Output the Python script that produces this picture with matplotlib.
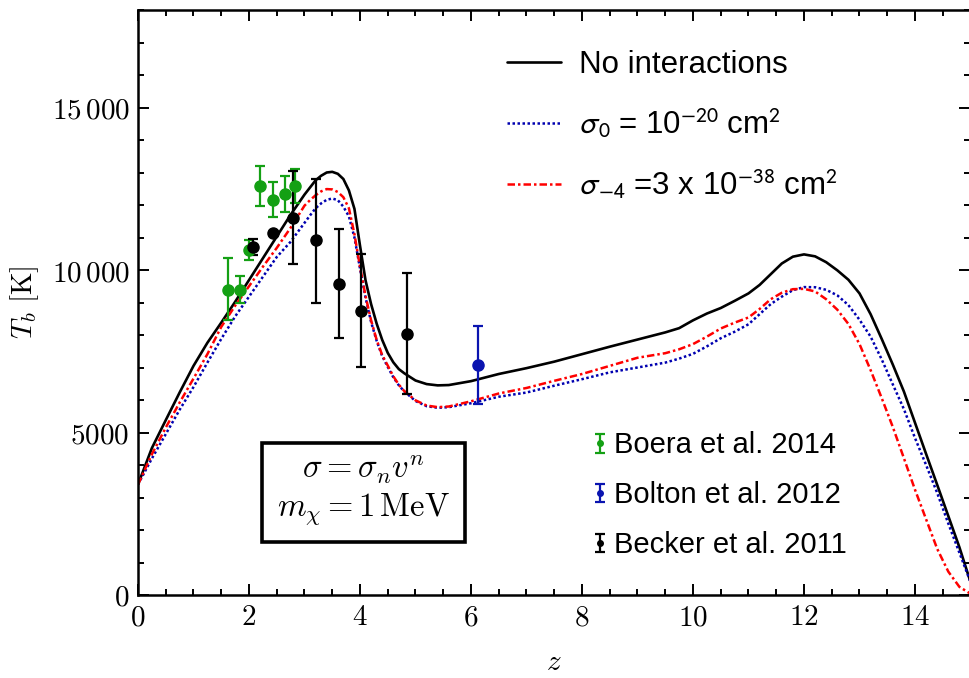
import matplotlib
matplotlib.use("Agg")
import matplotlib.pyplot as plt
from matplotlib.font_manager import FontProperties
from matplotlib.ticker import MultipleLocator, FixedLocator, FixedFormatter
from matplotlib.legend_handler import HandlerErrorbar

plt.rcParams['mathtext.fontset'] = 'cm'

# ---------------- data ----------------
z = [0, 0.25, 0.5, 0.75, 1.0, 1.25, 1.5, 1.75, 2.0, 2.25, 2.5, 2.75, 3.0,
     3.1, 3.2, 3.3, 3.4, 3.5, 3.6, 3.7, 3.8, 3.9, 4.0, 4.1, 4.2, 4.3, 4.4,
     4.5, 4.6, 4.7, 4.8, 5.0, 5.2, 5.4, 5.6, 5.8, 6.0, 6.5, 7.0, 7.5, 8.0,
     8.5, 9.0, 9.5, 9.75, 10.0, 10.25, 10.5, 10.75, 11.0, 11.2, 11.4, 11.6,
     11.8, 12.0, 12.2, 12.4, 12.6, 12.8, 13.0, 13.2, 13.4, 13.6, 13.8, 14.0,
     14.2, 14.4, 14.6, 14.8, 15.0]

T_none = [3400, 4520, 5380, 6230, 7050, 7760, 8380, 9020, 9690, 10360, 11030,
          11700, 12320, 12540, 12760, 12900, 13000, 13020, 12960, 12800, 12450,
          11880, 10750, 9680, 8950, 8350, 7850, 7450, 7160, 6950, 6820, 6600,
          6490, 6450, 6460, 6520, 6580, 6800, 6980, 7180, 7410, 7640, 7860,
          8080, 8210, 8451, 8660, 8830, 9050, 9280, 9540, 9870, 10200, 10410,
          10480, 10420, 10240, 9990, 9700, 9280, 8640, 7880, 7090, 6260, 5300,
          4340, 3390, 2430, 1470, 400]

T_sig0 = [3400, 4200, 4950, 5700, 6400, 7150, 7880, 8570, 9180, 9790, 10400,
          10870, 11450, 11680, 11900, 12050, 12160, 12200, 12150, 11950, 11650,
          11000, 10050, 9150, 8400, 7820, 7350, 7020, 6700, 6450, 6260, 5970,
          5810, 5760, 5780, 5840, 5900, 6100, 6230, 6440, 6640, 6850, 7000,
          7150, 7273, 7420, 7650, 7900, 8100, 8330, 8640, 8950, 9180, 9380,
          9474, 9470, 9390, 9220, 8920, 8470, 7950, 7250, 6480, 5720, 4830,
          4000, 3140, 2200, 1300, 400]

T_sigm4 = [3400, 4330, 5150, 5920, 6660, 7410, 8250, 8900, 9500, 10100, 10680,
           11300, 11980, 12150, 12300, 12420, 12490, 12480, 12400, 12240, 11900,
           11100, 10100, 9200, 8450, 7850, 7380, 7060, 6730, 6470, 6270, 5990,
           5830, 5780, 5800, 5880, 5960, 6200, 6370, 6590, 6800, 7050, 7300,
           7440, 7560, 7720, 7950, 8200, 8380, 8540, 8800, 9100, 9300, 9410,
           9420, 9340, 9100, 8780, 8340, 7720, 6920, 6060, 5170, 4210, 3240,
           2330, 1420, 720, 250, 40]

# Boera et al. 2014
boera_z = [1.63, 1.84, 2.0, 2.2, 2.43, 2.64, 2.82]
boera_T = [9400, 9400, 10620, 12570, 12160, 12340, 12570]
boera_lo = [950, 400, 300, 590, 540, 540, 520]
boera_hi = [970, 430, 290, 620, 540, 540, 550]

# Bolton et al. 2012
bolton_z = [6.13]
bolton_T = [7070]
bolton_lo = [1180]
bolton_hi = [1200]

# Becker et al. 2011
becker_z = [2.08, 2.43, 2.8, 3.2, 3.63, 4.02, 4.84]
becker_T = [10720, 11130, 11610, 10910, 9580, 8740, 8020]
becker_lo = [250, 0, 1440, 1930, 1670, 1720, 1850]
becker_hi = [240, 0, 1450, 1900, 1690, 1760, 1880]

ytick_vals = [0, 5000, 10000, 15000]
ytick_labels = [r'$0$', r'$5000$', r'$10\,000$', r'$15\,000$']
xtick_vals = [0, 2, 4, 6, 8, 10, 12, 14]

# ---------------- figure ----------------
fig = plt.figure(figsize=(9.7, 6.78), dpi=100)
ax = fig.add_axes([138 / 970, 83 / 678, 832.5 / 970, 585 / 678])

l1, = ax.plot(z, T_none, color='black', lw=1.9, solid_capstyle='round')
l2, = ax.plot(z, T_sig0, color='#0000b0', lw=1.8, linestyle=(0, (1, 1)))
l3, = ax.plot(z, T_sigm4, color='#ff0000', lw=1.8,
              linestyle=(0, (3, 1.2, 1, 1.2)))

green = '#14a014'
blue = '#0a14b0'
eb_kw = dict(fmt='o', ms=8, elinewidth=1.6, capsize=3.5, capthick=1.6)
e1 = ax.errorbar(boera_z, boera_T, yerr=[boera_lo, boera_hi], color=green, **eb_kw)
e2 = ax.errorbar(bolton_z, bolton_T, yerr=[bolton_lo, bolton_hi], color=blue, **eb_kw)
e3 = ax.errorbar(becker_z, becker_T, yerr=[becker_lo, becker_hi], color='black', **eb_kw)

ax.set_xlim(0, 15)
ax.set_ylim(0, 18000)
ax.xaxis.set_major_locator(FixedLocator(xtick_vals))
ax.xaxis.set_minor_locator(MultipleLocator(0.5))
ax.yaxis.set_major_locator(FixedLocator(ytick_vals))
ax.yaxis.set_major_formatter(FixedFormatter(ytick_labels))
ax.yaxis.set_minor_locator(MultipleLocator(1000))
ax.set_xticklabels([r'$%d$' % v for v in xtick_vals])

ax.tick_params(which='both', direction='in', top=True, right=True,
               width=1.4, colors='black', labelsize=21)
ax.tick_params(which='major', length=8, pad=6)
ax.tick_params(which='minor', length=4.5)
for s in ax.spines.values():
    s.set_linewidth(1.8)

ax.set_xlabel(r'$z$', fontsize=21, labelpad=12)
ax.set_ylabel(r'$T_b\ [\mathrm{K}]$', fontsize=21, labelpad=8)

# top legend
prop1 = FontProperties(family='Liberation Sans', size=22.5, math_fontfamily='stixsans')
leg1 = ax.legend([l1, l2, l3],
                 ['No interactions',
                  r'$\sigma_0$ = 10$^{-20}$ cm$^2$',
                  r'$\sigma_{-4}$ =3 x 10$^{-38}$ cm$^2$'],
                 prop=prop1, loc='upper left', bbox_to_anchor=(0.443, 0.932),
                 frameon=False, handlelength=1.75, handletextpad=0.55,
                 labelspacing=0.88, borderpad=0, borderaxespad=0)
ax.add_artist(leg1)

prop2 = FontProperties(family='Liberation Sans', size=21)
leg2 = ax.legend([e1, e2, e3],
                 ['Boera et al. 2014', 'Bolton et al. 2012', 'Becker et al. 2011'],
                 prop=prop2, loc='upper left', bbox_to_anchor=(0.546, 0.2795),
                 frameon=False, handlelength=0.5, handletextpad=0.25,
                 labelspacing=0.75, borderpad=0, borderaxespad=0, markerscale=0.5,
                 handler_map={type(e1): HandlerErrorbar(yerr_size=0.32)})

ax.text(0.271, 0.179, r'$\sigma = \sigma_n v^n$' + '\n' + r'$m_\chi = 1\,\mathrm{MeV}$',
        transform=ax.transAxes, ha='center', va='center', fontsize=23.5,
        multialignment='center', linespacing=1.12,
        bbox=dict(boxstyle='square,pad=0.45', facecolor='white',
                  edgecolor='black', linewidth=2.6))

fig.savefig('out.png', dpi=100)
